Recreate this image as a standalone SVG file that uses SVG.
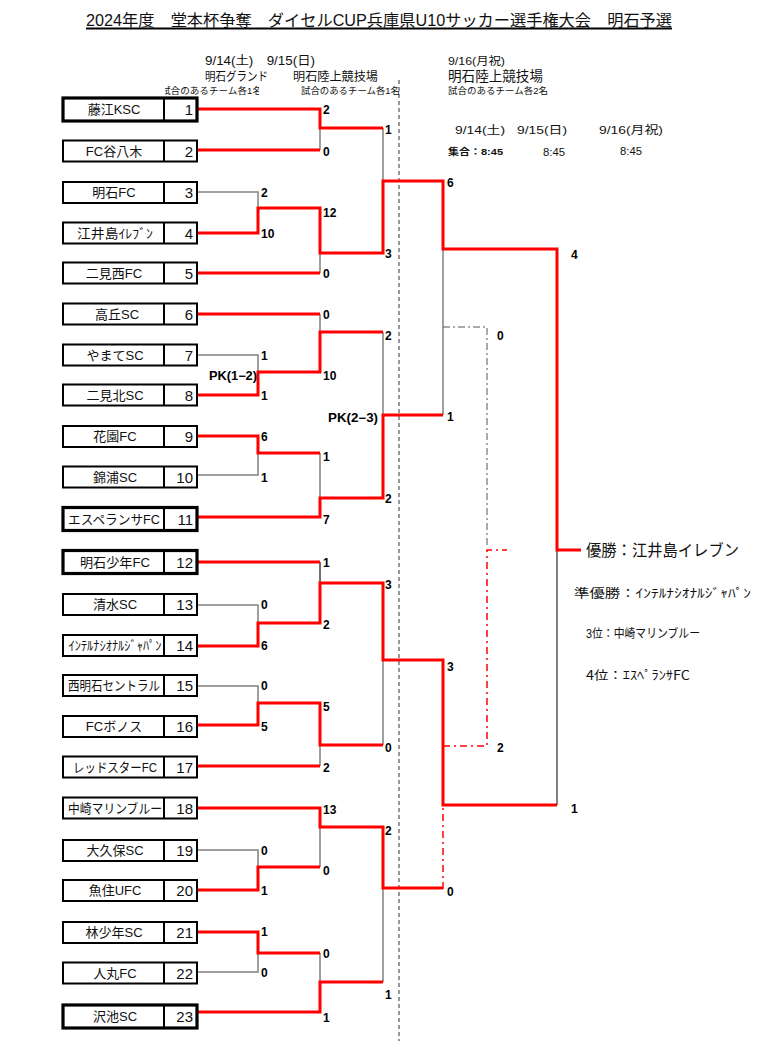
<svg xmlns="http://www.w3.org/2000/svg" width="783" height="1041" viewBox="0 0 783 1041">
<style>
text{font-family:"Liberation Sans","Noto Sans CJK JP",sans-serif;fill:#111}
text.hw{font-family:"Noto Sans CJK JP","Liberation Sans",sans-serif}
.box{fill:#fff;stroke:#000;stroke-width:2}
.thick{stroke-width:3.2}
.div{stroke:#000;stroke-width:2}
.nm{font-size:13px;text-anchor:middle}
.no{font-size:15px;text-anchor:end}
.sc{font-size:12px;font-weight:bold;fill:#000}
.hd{font-size:12px}
.sm{font-size:9px}
.red{fill:none;stroke:#ff0000;stroke-width:3}
.gray{fill:none;stroke:#808080;stroke-width:1.5}
.dark{fill:none;stroke:#404040;stroke-width:1.5}
.blk{fill:none;stroke:#000;stroke-width:1}
.dd{fill:none;stroke:#555;stroke-width:1;stroke-dasharray:7 3 2 3}
.rdd{fill:none;stroke:#ff0000;stroke-width:1.5;stroke-dasharray:7 4 2 4}
.dash{fill:none;stroke:#333;stroke-width:1;stroke-dasharray:4 3}
</style>
<defs>
<clipPath id="clipL"><rect x="165" y="80" width="94" height="20"/></clipPath>
</defs>
<rect width="783" height="1041" fill="#fff"/>

<g id="header">
<text x="86" y="26" font-size="16" textLength="586" lengthAdjust="spacingAndGlyphs">2024年度　堂本杯争奪　ダイセルCUP兵庫県U10サッカー選手権大会　明石予選</text>
<line x1="86" y1="28.5" x2="672" y2="28.5" stroke="#000" stroke-width="2"/>
<text class="hd" x="205" y="64.5" textLength="110" lengthAdjust="spacingAndGlyphs">9/14(土)　9/15(日)</text>
<text class="hd" x="205" y="80.5" textLength="63" lengthAdjust="spacingAndGlyphs">明石グランド</text>
<text class="hd" x="293" y="80.5" textLength="85" lengthAdjust="spacingAndGlyphs">明石陸上競技場</text>
<g clip-path="url(#clipL)"><text class="sm" x="161" y="93.5" textLength="101" lengthAdjust="spacingAndGlyphs">試合のあるチーム各1名</text></g>
<text class="sm" x="301" y="93.5" textLength="99" lengthAdjust="spacingAndGlyphs">試合のあるチーム各1名</text>
<text x="448" y="64.5" font-size="11" textLength="57" lengthAdjust="spacingAndGlyphs">9/16(月祝)</text>
<text x="448" y="81" font-size="13.5" textLength="95" lengthAdjust="spacingAndGlyphs">明石陸上競技場</text>
<text class="sm" x="448" y="93.5" textLength="100" lengthAdjust="spacingAndGlyphs">試合のあるチーム各2名</text>
<text x="455" y="134" font-size="11.5" textLength="50" lengthAdjust="spacingAndGlyphs">9/14(土)</text>
<text x="517" y="134" font-size="11.5" textLength="50" lengthAdjust="spacingAndGlyphs">9/15(日)</text>
<text x="599" y="134" font-size="11.5" textLength="64" lengthAdjust="spacingAndGlyphs">9/16(月祝)</text>
<text x="448" y="155" font-size="9" font-weight="bold" textLength="55" lengthAdjust="spacingAndGlyphs">集合：8:45</text>
<text x="543" y="156" font-size="11.5" textLength="22" lengthAdjust="spacingAndGlyphs">8:45</text>
<text x="620" y="155" font-size="11.5" textLength="22" lengthAdjust="spacingAndGlyphs">8:45</text>
</g>

<g id="connectors">
<line class="dash" x1="399" y1="80" x2="399" y2="1041"/>
<path class="gray" d="M320,128 V150"/>
<path class="gray" d="M197,192 H258 V208"/>
<path class="gray" d="M320,253 V273"/>
<path class="gray" d="M383,128 V181"/>
<path class="red" d="M197,109 H320 V128 H383"/>
<path class="red" d="M197,150 H320"/>
<path class="red" d="M197,273 H320"/>
<path class="gray" d="M320,314 V332"/>
<path class="gray" d="M197,355 H258 V372"/>
<path class="gray" d="M383,332 V415"/>
<path class="gray" d="M443,249 V415"/>
<path class="gray" d="M197,475 H258 V453"/>
<path class="gray" d="M320,453 V498"/>
<path class="red" d="M197,314 H320"/>
<path class="red" d="M197,395 H258 V372 H320 V332 H383"/>
<path class="red" d="M197,436 H258 V453 H320"/>
<path class="red" d="M197,517 H320 V498 H383 V415 H443"/>
<path class="dark" d="M320,562 V583"/>
<path class="gray" d="M197,605 H258 V623"/>
<path class="gray" d="M197,686 H258 V703"/>
<path class="gray" d="M383,660 V745"/>
<path class="gray" d="M320,745 V766"/>
<path class="red" d="M197,562 H320"/>
<path class="red" d="M197,725 H258 V703 H320 V745 H383"/>
<path class="red" d="M197,766 H320"/>
<path class="gray" d="M320,827 V867"/>
<path class="gray" d="M197,850 H258 V867"/>
<path class="gray" d="M383,888 V982"/>
<path class="gray" d="M197,972 H258 V953"/>
<path class="gray" d="M320,953 V982"/>
<path class="red" d="M197,808 H320 V827 H383 V888 H443"/>
<path class="red" d="M197,890 H258 V867 H320"/>
<path class="red" d="M197,932 H258 V953 H320"/>
<path class="red" d="M197,1012 H320 V982 H383"/>
<path class="dd" d="M443,327 H487 V548"/>
<path class="rdd" d="M443,889 V807"/>
<path class="rdd" d="M443,746 H487 V550 H507"/>
<path class="blk" d="M557,535 V805"/>
<path class="red" d="M197,233 H258 V208 H320 V253 H383 V181 H443 V249 H557 V550 H581"/>
<path class="red" d="M197,646 H258 V623 H320 V583 H383 V660 H443 V805 H557"/>
</g>

<g id="scores">
<text class="sc" x="261" y="197">2</text>
<text class="sc" x="261" y="237.5">10</text>
<text class="sc" x="261" y="360">1</text>
<text class="sc" x="261" y="400">1</text>
<text class="sc" x="261" y="441">6</text>
<text class="sc" x="261" y="482">1</text>
<text class="sc" x="261" y="609">0</text>
<text class="sc" x="261" y="650">6</text>
<text class="sc" x="261" y="690">0</text>
<text class="sc" x="261" y="731">5</text>
<text class="sc" x="261" y="855">0</text>
<text class="sc" x="261" y="895">1</text>
<text class="sc" x="261" y="936">1</text>
<text class="sc" x="261" y="977">0</text>
<text class="sc" x="323" y="113.5">2</text>
<text class="sc" x="323" y="156">0</text>
<text class="sc" x="323" y="217">12</text>
<text class="sc" x="323" y="277.5">0</text>
<text class="sc" x="323" y="318.5">0</text>
<text class="sc" x="323" y="379.5">10</text>
<text class="sc" x="323" y="461">1</text>
<text class="sc" x="323" y="523.5">7</text>
<text class="sc" x="323" y="567">1</text>
<text class="sc" x="323" y="629">2</text>
<text class="sc" x="323" y="710.5">5</text>
<text class="sc" x="323" y="771.5">2</text>
<text class="sc" x="323" y="813.5">13</text>
<text class="sc" x="323" y="874.5">0</text>
<text class="sc" x="323" y="957.5">0</text>
<text class="sc" x="323" y="1021.5">1</text>
<text class="sc" x="385" y="134">1</text>
<text class="sc" x="385" y="257.5">3</text>
<text class="sc" x="385" y="340">2</text>
<text class="sc" x="385" y="502.5">2</text>
<text class="sc" x="385" y="589">3</text>
<text class="sc" x="385" y="751.5">0</text>
<text class="sc" x="385" y="835">2</text>
<text class="sc" x="385" y="998.5">1</text>
<text class="sc" x="447" y="186.5">6</text>
<text class="sc" x="447" y="420.5">1</text>
<text class="sc" x="447" y="670.5">3</text>
<text class="sc" x="447" y="895.5">0</text>
<text class="sc" x="497" y="339.5">0</text>
<text class="sc" x="497" y="751.5">2</text>
<text class="sc" x="571" y="258.5">4</text>
<text class="sc" x="571" y="812.5">1</text>
<text class="sc" x="209" y="379.5" textLength="48" lengthAdjust="spacingAndGlyphs">PK(1−2)</text>
<text class="sc" x="328" y="421.5" textLength="50" lengthAdjust="spacingAndGlyphs">PK(2−3)</text>
</g>

<g id="results">
<text x="586" y="556" font-size="16" textLength="153" lengthAdjust="spacingAndGlyphs">優勝：江井島イレブン</text>
<text class="hw" x="574" y="597.5" font-size="12.5" textLength="177" lengthAdjust="spacingAndGlyphs">準優勝：ｲﾝﾃﾙﾅｼｵﾅﾙｼﾞｬﾊﾟﾝ</text>
<text x="586" y="638" font-size="12.5" textLength="114" lengthAdjust="spacingAndGlyphs">3位：中崎マリンブルー</text>
<text class="hw" x="586" y="680" font-size="12.5" textLength="104" lengthAdjust="spacingAndGlyphs">4位：ｴｽﾍﾟﾗﾝｻFC</text>
</g>

<g id="team1"><rect class="box thick" x="63" y="98" width="134" height="23"/><line class="div" x1="164" y1="98" x2="164" y2="121"/><text class="nm" x="114" y="114">藤江KSC</text><text class="no" x="193" y="115">1</text></g>
<g id="team2"><rect class="box" x="63" y="140.5" width="134" height="21"/><line class="div" x1="164" y1="140.5" x2="164" y2="161.5"/><text class="nm" x="114" y="155.5">FC谷八木</text><text class="no" x="193" y="156.5">2</text></g>
<g id="team3"><rect class="box" x="63" y="182" width="134" height="21"/><line class="div" x1="164" y1="182" x2="164" y2="203"/><text class="nm" x="114" y="197">明石FC</text><text class="no" x="193" y="198">3</text></g>
<g id="team4"><rect class="box" x="63" y="222.5" width="134" height="21"/><line class="div" x1="164" y1="222.5" x2="164" y2="243.5"/><text class="nm hw" x="115" y="237.5" textLength="76" lengthAdjust="spacingAndGlyphs">江井島ｲﾚﾌﾞﾝ</text><text class="no" x="193" y="238.5">4</text></g>
<g id="team5"><rect class="box" x="63" y="262.5" width="134" height="21"/><line class="div" x1="164" y1="262.5" x2="164" y2="283.5"/><text class="nm" x="114" y="277.5">二見西FC</text><text class="no" x="193" y="278.5">5</text></g>
<g id="team6"><rect class="box" x="63" y="303.5" width="134" height="21"/><line class="div" x1="164" y1="303.5" x2="164" y2="324.5"/><text class="nm" x="117" y="318.5">高丘SC</text><text class="no" x="193" y="319.5">6</text></g>
<g id="team7"><rect class="box" x="63" y="344.5" width="134" height="21"/><line class="div" x1="164" y1="344.5" x2="164" y2="365.5"/><text class="nm" x="115" y="359.5">やまてSC</text><text class="no" x="193" y="360.5">7</text></g>
<g id="team8"><rect class="box" x="63" y="384.5" width="134" height="21"/><line class="div" x1="164" y1="384.5" x2="164" y2="405.5"/><text class="nm" x="115" y="399.5">二見北SC</text><text class="no" x="193" y="400.5">8</text></g>
<g id="team9"><rect class="box" x="63" y="426" width="134" height="21"/><line class="div" x1="164" y1="426" x2="164" y2="447"/><text class="nm" x="115" y="441">花園FC</text><text class="no" x="193" y="442">9</text></g>
<g id="team10"><rect class="box" x="63" y="466.5" width="134" height="21"/><line class="div" x1="164" y1="466.5" x2="164" y2="487.5"/><text class="nm" x="115" y="481.5">錦浦SC</text><text class="no" x="193" y="482.5">10</text></g>
<g id="team11"><rect class="box thick" x="63" y="507.5" width="134" height="23"/><line class="div" x1="164" y1="507.5" x2="164" y2="530.5"/><text class="nm" x="114" y="523.5" textLength="92" lengthAdjust="spacingAndGlyphs">エスペランサFC</text><text class="no" x="193" y="524.5">11</text></g>
<g id="team12"><rect class="box thick" x="63" y="550.5" width="134" height="23"/><line class="div" x1="164" y1="550.5" x2="164" y2="573.5"/><text class="nm" x="115" y="566.5" textLength="70" lengthAdjust="spacingAndGlyphs">明石少年FC</text><text class="no" x="193" y="567.5">12</text></g>
<g id="team13"><rect class="box" x="63" y="594" width="134" height="21"/><line class="div" x1="164" y1="594" x2="164" y2="615"/><text class="nm" x="115" y="609">清水SC</text><text class="no" x="193" y="610">13</text></g>
<g id="team14"><rect class="box" x="63" y="635" width="134" height="21"/><line class="div" x1="164" y1="635" x2="164" y2="656"/><text class="nm hw" x="115" y="650" font-size="12" textLength="93" lengthAdjust="spacingAndGlyphs">ｲﾝﾃﾙﾅｼｵﾅﾙｼﾞｬﾊﾟﾝ</text><text class="no" x="193" y="651">14</text></g>
<g id="team15"><rect class="box" x="63" y="675" width="134" height="21"/><line class="div" x1="164" y1="675" x2="164" y2="696"/><text class="nm" x="114" y="690" textLength="92" lengthAdjust="spacingAndGlyphs">西明石セントラル</text><text class="no" x="193" y="691">15</text></g>
<g id="team16"><rect class="box" x="63" y="716" width="134" height="21"/><line class="div" x1="164" y1="716" x2="164" y2="737"/><text class="nm" x="114" y="731">FCボノス</text><text class="no" x="193" y="732">16</text></g>
<g id="team17"><rect class="box" x="63" y="756.5" width="134" height="21"/><line class="div" x1="164" y1="756.5" x2="164" y2="777.5"/><text class="nm" x="115" y="771.5" textLength="84" lengthAdjust="spacingAndGlyphs">レッドスターFC</text><text class="no" x="193" y="772.5">17</text></g>
<g id="team18"><rect class="box" x="63" y="797.5" width="134" height="21"/><line class="div" x1="164" y1="797.5" x2="164" y2="818.5"/><text class="nm" x="115" y="812.5" textLength="94" lengthAdjust="spacingAndGlyphs">中崎マリンブルー</text><text class="no" x="193" y="813.5">18</text></g>
<g id="team19"><rect class="box" x="63" y="840" width="134" height="21"/><line class="div" x1="164" y1="840" x2="164" y2="861"/><text class="nm" x="115" y="855">大久保SC</text><text class="no" x="193" y="856">19</text></g>
<g id="team20"><rect class="box" x="63" y="880" width="134" height="21"/><line class="div" x1="164" y1="880" x2="164" y2="901"/><text class="nm" x="115" y="895">魚住UFC</text><text class="no" x="193" y="896">20</text></g>
<g id="team21"><rect class="box" x="63" y="922" width="134" height="21"/><line class="div" x1="164" y1="922" x2="164" y2="943"/><text class="nm" x="114" y="937">林少年SC</text><text class="no" x="193" y="938">21</text></g>
<g id="team22"><rect class="box" x="63" y="962.5" width="134" height="21"/><line class="div" x1="164" y1="962.5" x2="164" y2="983.5"/><text class="nm" x="115" y="977.5">人丸FC</text><text class="no" x="193" y="978.5">22</text></g>
<g id="team23"><rect class="box thick" x="63" y="1005" width="134" height="23"/><line class="div" x1="164" y1="1005" x2="164" y2="1028"/><text class="nm" x="115" y="1021">沢池SC</text><text class="no" x="193" y="1022">23</text></g>
</svg>
